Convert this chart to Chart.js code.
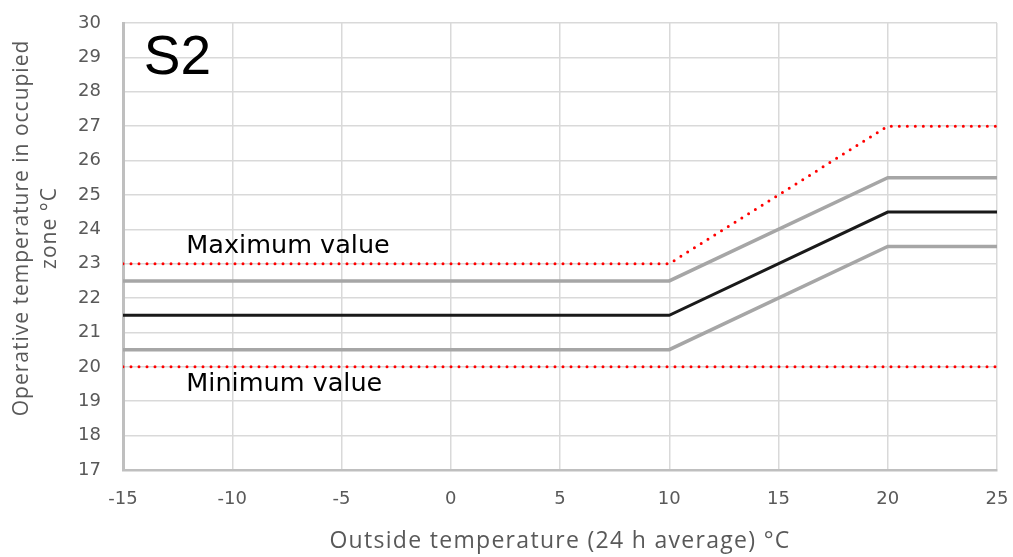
<!DOCTYPE html>
<html>
<head>
<meta charset="utf-8">
<script src="https://cdn.jsdelivr.net/npm/chart.js@4.4.1/dist/chart.umd.min.js"></script>
<style>
    html, body { margin: 0; padding: 0; background: #fff; }
    #wrap { width: 1013px; height: 557px; position: relative; }
</style>
</head>
<body>
<div id="wrap"><canvas id="chartS2"></canvas></div>
<script>
// Outside temperature breakpoints (°C)
const outsideTemp = [-15, 10, 20, 25];

// Operative temperature series (°C)
const maxValue   = [23, 23, 27, 27];
const upperBand  = [22.5, 22.5, 25.5, 25.5];
const setpoint   = [21.5, 21.5, 24.5, 24.5];
const lowerBand  = [20.5, 20.5, 23.5, 23.5];
const minValue   = [20, 20, 20, 20];

const xTicks = [-15, -10, -5, 0, 5, 10, 15, 20, 25];
const yTicks = [17, 18, 19, 20, 21, 22, 23, 24, 25, 26, 27, 28, 29, 30];

const xTitle = 'Outside temperature (24 h average) °C';
const yTitle = ['Operative temperature in occupied', 'zone °C'];

const toPoints = ys => outsideTemp.map((x, i) => ({ x: x, y: ys[i] }));

const FONT = '"Open Sans", "Noto Sans", sans-serif';
const TICK_FONT = '"DejaVu Sans", sans-serif';
const TEXT_GREY = '#595959';

// Annotations and axis titles (drawn by hand so spacing matches)
const labelsPlugin = {
    id: 'chartLabels',
    afterDatasetsDraw(chart) {
        const { ctx, scales, chartArea } = chart;
        const xs = scales.x, ys = scales.y;
        ctx.save();
        ctx.fillStyle = '#000';
        ctx.textBaseline = 'middle';
        ctx.textAlign = 'left';
        ctx.font = '55px "Liberation Sans", Arial, sans-serif';
        ctx.fillText('S2', xs.getPixelForValue(-14.05), ys.getPixelForValue(28.95));
        ctx.font = '25.5px "DejaVu Sans", sans-serif';
        ctx.fillText('Maximum value', xs.getPixelForValue(-12.1), ys.getPixelForValue(23.5));
        ctx.fillText('Minimum value', xs.getPixelForValue(-12.1), ys.getPixelForValue(19.5));

        // axis titles
        ctx.fillStyle = TEXT_GREY;
        ctx.textAlign = 'center';
        ctx.font = '23px ' + FONT;
        ctx.letterSpacing = '1.3px';
        ctx.fillText(xTitle, (chartArea.left + chartArea.right) / 2, 541);

        ctx.font = '21px ' + FONT;
        ctx.letterSpacing = '1px';
        ctx.translate(0, 228);
        ctx.rotate(-Math.PI / 2);
        ctx.fillText(yTitle[0], 0, 22);
        ctx.fillText(yTitle[1], 0, 50);
        ctx.restore();
    }
};

new Chart(document.getElementById('chartS2'), {
    type: 'line',
    data: {
        datasets: [
            {
                label: 'Maximum value',
                data: toPoints(maxValue),
                borderColor: '#ff0000',
                borderWidth: 3,
                borderDash: [0, 8],
                borderCapStyle: 'round'
            },
            {
                label: 'Upper',
                data: toPoints(upperBand),
                borderColor: '#a6a6a6',
                borderWidth: 3.5
            },
            {
                label: 'Setpoint',
                data: toPoints(setpoint),
                borderColor: '#1a1a1a',
                borderWidth: 3
            },
            {
                label: 'Lower',
                data: toPoints(lowerBand),
                borderColor: '#a6a6a6',
                borderWidth: 3.5
            },
            {
                label: 'Minimum value',
                data: toPoints(minValue),
                borderColor: '#ff0000',
                borderWidth: 3,
                borderDash: [0, 8],
                borderCapStyle: 'round'
            }
        ]
    },
    options: {
        responsive: true,
        maintainAspectRatio: false,
        animation: false,
        elements: {
            point: { radius: 0, hoverRadius: 0 },
            line: { tension: 0, fill: false }
        },
        layout: {
            padding: { left: 0, right: 16, top: 23, bottom: 0 }
        },
        plugins: {
            legend: { display: false },
            tooltip: { enabled: false }
        },
        scales: {
            x: {
                type: 'linear',
                min: -15,
                max: 25,
                afterBuildTicks: axis => { axis.ticks = xTicks.map(v => ({ value: v })); },
                afterFit: axis => {
                    axis.height = 87;
                    axis.paddingLeft = 0;
                    axis.paddingRight = 0;
                },
                ticks: {
                    color: TEXT_GREY,
                    font: { family: TICK_FONT, size: 18 },
                    padding: 19,
                    maxRotation: 0
                },
                grid: {
                    color: '#d9d9d9',
                    lineWidth: 1.5,
                    drawTicks: false
                },
                border: { color: '#bfbfbf', width: 2.5 }
            },
            y: {
                type: 'linear',
                min: 17,
                max: 30,
                afterBuildTicks: axis => { axis.ticks = yTicks.map(v => ({ value: v })); },
                afterFit: axis => {
                    axis.width = 123;
                    axis.paddingTop = 0;
                    axis.paddingBottom = 0;
                },
                ticks: {
                    color: TEXT_GREY,
                    font: { family: TICK_FONT, size: 18 },
                    padding: 22
                },
                grid: {
                    color: '#d9d9d9',
                    lineWidth: 1.5,
                    drawTicks: false
                },
                border: { color: '#bfbfbf', width: 3 }
            }
        }
    },
    plugins: [labelsPlugin]
});
</script>
</body>
</html>
